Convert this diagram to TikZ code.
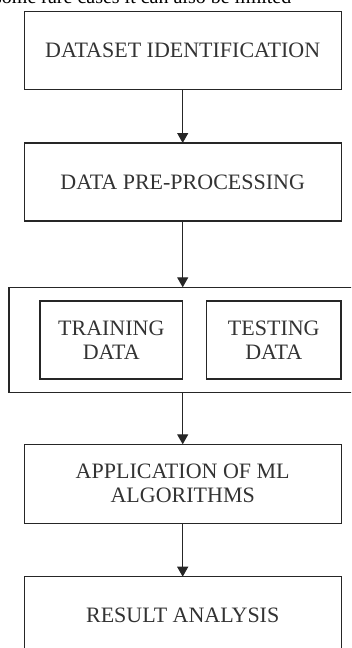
\documentclass[tikz,border=0pt]{standalone}
\usepackage{fontspec}
\setmainfont{Liberation Serif}
\usetikzlibrary{arrows.meta}

\begin{document}
\begin{tikzpicture}[x=1pt,y=-1pt,
stage/.style={draw=black!85,line width=1.2pt,minimum width=317pt,minimum height=78pt,inner sep=0pt,outer sep=0pt,align=center,text=black!80,font=\fontsize{22}{24}\selectfont},
part/.style={stage,minimum height=78pt},
flow/.style={-{Triangle[length=10pt,width=11pt]},draw=black!85,line width=1.2pt}]
\useasboundingbox (0,0) rectangle (351,648);
\clip (0,0) rectangle (351,648);
% cut-off line of text above the figure
\node[anchor=base west,inner sep=0pt,font=\fontsize{20}{24}\selectfont] (cut) at (-6,3) {some rare cases it can also be limited};
\node[stage] (ident) at (182.7,50.5) {DATASET IDENTIFICATION};
\node[stage] (prep) at (182.7,182) {DATA PRE-PROCESSING};
\node[stage,minimum width=351pt,minimum height=105.4pt] (split) at (184.5,340) {};
\node[part,minimum width=142.7pt] (train) at (111.3,340) {TRAINING\\DATA};
\node[part,minimum width=134.3pt] (test) at (273.8,340) {TESTING\\DATA};
\node[stage,minimum height=79pt] (algo) at (182.7,483.8) {APPLICATION OF ML\\ALGORITHMS};
\node[stage] (result) at (182.7,615.7) {RESULT ANALYSIS};
\draw[flow] (ident) -- (prep);
\draw[flow] (prep) -- (prep |- split.north);
\draw[flow] (prep |- split.south) -- (algo);
\draw[flow] (algo) -- (result);
\end{tikzpicture}
\end{document}
